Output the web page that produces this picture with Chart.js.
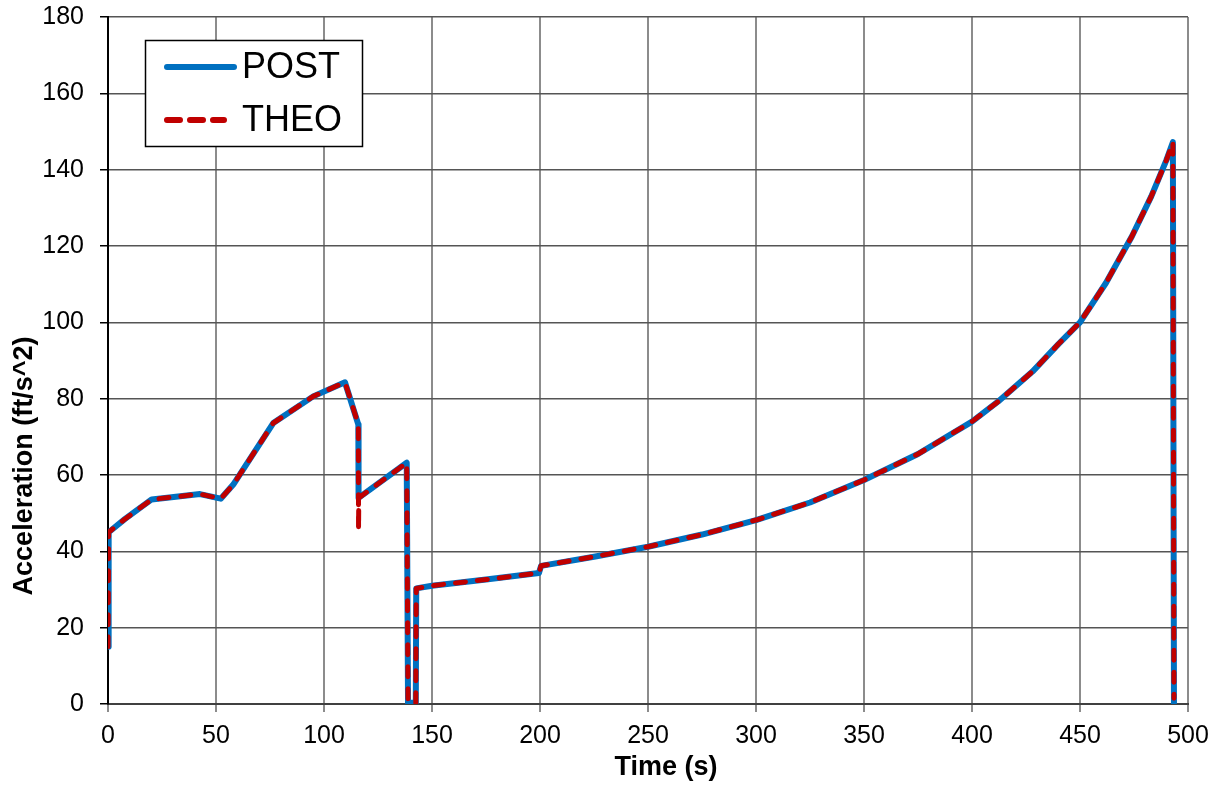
<!DOCTYPE html>
<html>
<head>
<meta charset="utf-8">
<script src="https://cdn.jsdelivr.net/npm/chart.js@4.4.1/dist/chart.umd.min.js"></script>
<style>
  html, body { margin: 0; padding: 0; background: #fff; }
  #accel-chart { display: block; }
</style>
</head>
<body>
<canvas id="accel-chart" width="1219" height="788"></canvas>
<script>
// time (s) and acceleration (ft/s^2) for both runs
var postTime  = [0, 0.3, 7.9, 20.2, 42.6, 52.2, 58.0, 76.5, 95.0, 109.7, 115.9, 116.0, 138.3, 138.9, 142.5, 142.7, 150, 175, 199.5, 200.5, 225, 250, 275, 300, 325, 350, 375, 400, 412, 428, 440, 450, 462, 474, 483, 490, 493, 493.5];
var postAccel = [15, 45.0, 48.5, 53.6, 55.0, 53.8, 57.5, 73.6, 80.6, 84.3, 73.2, 54.0, 63.2, 0.3, 0.3, 30.3, 31.0, 32.6, 34.3, 36.2, 38.6, 41.2, 44.4, 48.2, 52.8, 58.7, 65.5, 74.0, 79.2, 87.1, 94.3, 100, 110.3, 122.5, 133.0, 142.5, 147.2, 0.3];

var theoTime  = [0, 0.3, 7.9, 20.2, 42.6, 52.2, 58.0, 76.5, 95.0, 109.7, 115.9, 116.0, 116.1, 138.3, 138.9, 142.5, 142.7, 150, 175, 199.5, 200.5, 225, 250, 275, 300, 325, 350, 375, 400, 412, 428, 440, 450, 462, 474, 483, 490, 493, 493.5];
var theoAccel = [15, 45.0, 48.5, 53.6, 55.0, 53.8, 57.5, 73.6, 80.6, 84.3, 73.2, 45.7, 54.0, 63.2, 0.3, 0.3, 30.3, 31.0, 32.6, 34.3, 36.2, 38.6, 41.2, 44.4, 48.2, 52.8, 58.7, 65.5, 74.0, 79.2, 87.1, 94.3, 100, 110.3, 122.5, 133.0, 142.5, 147.2, 1.5];

var seriesLabels = ["POST", "THEO"];
var xTitle = "Time (s)";
var yTitle = "Acceleration (ft/s^2)";

var FONT = "Arial, 'Liberation Sans', sans-serif";

function toPoints(xs, ys) {
    var pts = [];
    for (var i = 0; i < xs.length; i++) pts.push({x: xs[i], y: ys[i]});
    return pts;
}

var data = [{
    label: seriesLabels[0],
    data: toPoints(postTime, postAccel),
    borderColor: "#0070c0",
    borderWidth: 6,
    borderCapStyle: "round",
    borderJoinStyle: "round",
    pointRadius: 0,
    showLine: true,
    tension: 0,
    order: 2
}, {
    label: seriesLabels[1],
    data: toPoints(theoTime, theoAccel),
    borderColor: "#c00000",
    borderWidth: 5,
    borderDash: [10, 12],
    borderCapStyle: "round",
    borderJoinStyle: "round",
    pointRadius: 0,
    showLine: true,
    tension: 0,
    order: 1
}];

// axis titles and boxed legend, drawn on top of the plot
var decorations = {
    id: "decorations",
    afterDraw: function(chart) {
        var ctx = chart.ctx;
        ctx.save();
        ctx.fillStyle = "#000";
        ctx.font = "bold 27px " + FONT;
        ctx.textAlign = "center";
        ctx.textBaseline = "middle";
        ctx.fillText(xTitle, 666, 768);

        ctx.translate(25, 466);
        ctx.rotate(-Math.PI / 2);
        ctx.fillText(yTitle, 0, 0);
        ctx.restore();

        // legend box
        ctx.save();
        ctx.fillStyle = "#fff";
        ctx.fillRect(145.5, 40.5, 217, 106);
        ctx.strokeStyle = "#000";
        ctx.lineWidth = 1.5;
        ctx.strokeRect(145.5, 40.5, 217, 106);

        var rows = [67, 120];
        chart.data.datasets.forEach(function(ds, i) {
            ctx.beginPath();
            ctx.lineCap = "round";
            ctx.strokeStyle = ds.borderColor;
            ctx.lineWidth = 6;
            ctx.setLineDash(ds.borderDash ? [13, 10] : []);
            ctx.moveTo(167, rows[i]);
            ctx.lineTo(ds.borderDash ? 224 : 234, rows[i]);
            ctx.stroke();
            ctx.setLineDash([]);
            ctx.fillStyle = "#000";
            ctx.font = "36px " + FONT;
            ctx.textAlign = "left";
            ctx.textBaseline = "middle";
            ctx.fillText(ds.label, 242, rows[i] + 1);
        });
        ctx.restore();
    }
};

var options = {
    responsive: false,
    animation: false,
    layout: { padding: { left: 0, top: 17, right: 31, bottom: 0 } },
    plugins: {
        legend: { display: false },
        tooltip: { enabled: false }
    },
    scales: {
        x: {
            type: "linear",
            min: 0,
            max: 500,
            ticks: {
                stepSize: 50,
                color: "#000",
                padding: 9,
                maxRotation: 0,
                font: { family: FONT, size: 25 }
            },
            grid: {
                color: "#8c8c8c",
                lineWidth: 2,
                tickLength: 8,
                tickColor: "#8c8c8c"
            },
            border: { color: "#404040", width: 2 },
            afterFit: function(scale) { scale.height = 84; }
        },
        y: {
            min: 0,
            max: 180,
            ticks: {
                stepSize: 20,
                color: "#000",
                padding: 16,
                font: { family: FONT, size: 25 }
            },
            grid: {
                color: "#555",
                lineWidth: 1.5,
                tickLength: 8,
                tickColor: "#000"
            },
            border: { color: "#000", width: 2 },
            afterFit: function(scale) {
                scale.width = 108;
                scale.paddingTop = 0;
                scale.paddingBottom = 0;
            }
        }
    }
};

var ctx = document.getElementById("accel-chart").getContext("2d");
var myChart = new Chart(ctx, {
    type: "scatter",
    data: { datasets: data },
    options: options,
    plugins: [decorations]
});
</script>
</body>
</html>
